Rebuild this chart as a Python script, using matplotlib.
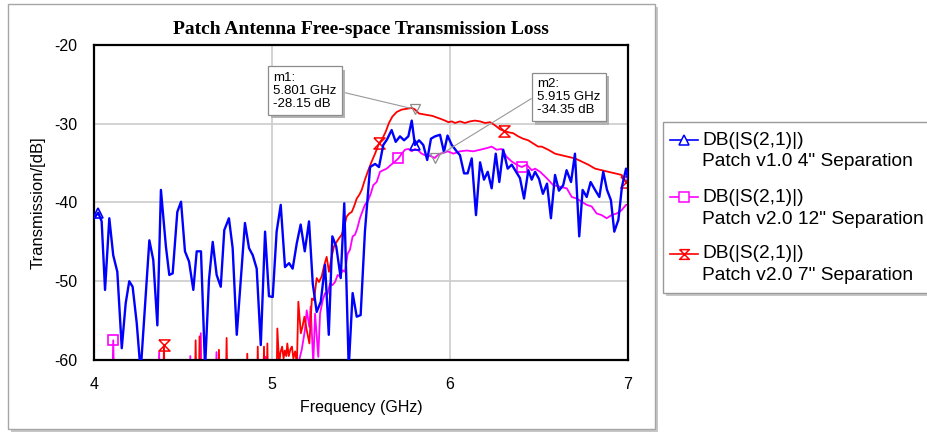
import matplotlib
matplotlib.use("Agg")
import matplotlib.pyplot as plt
from matplotlib.patches import Rectangle
from matplotlib.lines import Line2D
import matplotlib.patheffects as pe

plt.rcParams['font.family'] = ['Liberation Sans', 'DejaVu Sans']

# ---------------- data ----------------
blue_f = [4.000, 4.024, 4.043, 4.062, 4.086, 4.108, 4.131, 4.156, 4.178, 4.198, 4.217, 4.240, 4.262, 4.311,
          4.333, 4.356, 4.376, 4.404, 4.423, 4.442, 4.468, 4.489, 4.511, 4.534, 4.558, 4.577, 4.601, 4.624,
          4.646, 4.667, 4.689, 4.712, 4.732, 4.758, 4.779, 4.802, 4.826, 4.848, 4.871, 4.892, 4.914, 4.937,
          4.961, 4.983, 5.004, 5.026, 5.049, 5.073, 5.096, 5.116, 5.139, 5.161, 5.184, 5.208, 5.229, 5.251,
          5.274, 5.298, 5.319, 5.339, 5.361, 5.386, 5.406, 5.431, 5.453, 5.476, 5.498, 5.522, 5.551, 5.579,
          5.601, 5.625, 5.646, 5.672, 5.695, 5.719, 5.742, 5.766, 5.785, 5.803, 5.826, 5.850, 5.872, 5.893,
          5.916, 5.944, 5.966, 5.986, 6.010, 6.034, 6.056, 6.079, 6.099, 6.122, 6.146, 6.169, 6.191, 6.212,
          6.234, 6.257, 6.277, 6.299, 6.324, 6.347, 6.371, 6.393, 6.416, 6.440, 6.459, 6.478, 6.500, 6.522,
          6.545, 6.567, 6.590, 6.612, 6.636, 6.655, 6.680, 6.702, 6.726, 6.745, 6.768, 6.790, 6.815, 6.839,
          6.861, 6.882, 6.904, 6.923, 6.946, 6.966, 6.989, 7.000]
blue_v = [-42.0, -41.3, -42.4, -51.1, -42.0, -46.7, -48.8, -58.5, -52.8, -50.0, -50.7, -55.3, -61.5, -44.8,
          -47.3, -55.6, -38.4, -45.6, -49.2, -49.0, -41.2, -39.9, -46.2, -47.5, -51.1, -46.2, -46.2, -61.0,
          -49.8, -45.0, -49.2, -50.7, -43.5, -42.0, -45.8, -56.8, -49.4, -42.6, -45.8, -46.7, -48.4, -58.1,
          -43.7, -51.9, -52.0, -43.7, -40.3, -48.2, -47.7, -48.4, -45.2, -42.8, -46.2, -42.4, -50.3, -53.9,
          -52.6, -47.9, -56.8, -44.3, -45.6, -49.6, -40.1, -61.0, -51.5, -54.5, -54.3, -43.7, -35.5, -35.1,
          -35.5, -32.7, -32.0, -30.8, -32.3, -31.6, -32.1, -31.6, -29.6, -32.7, -32.1, -32.7, -34.6, -31.9,
          -31.6, -31.4, -33.6, -31.5, -32.7, -33.4, -34.0, -36.3, -36.3, -34.4, -41.6, -34.9, -37.1, -36.1,
          -38.2, -33.8, -37.4, -33.3, -35.7, -35.2, -36.1, -36.9, -39.5, -35.9, -37.1, -36.1, -37.0, -38.9,
          -37.6, -42.0, -36.5, -38.5, -37.8, -35.9, -37.4, -33.8, -44.3, -38.4, -39.3, -37.4, -38.4, -39.3,
          -36.1, -38.4, -39.7, -43.7, -42.2, -38.0, -35.7, -37.0]
blue_marker_f = [4.024, 5.803]

mag_f = [4.000, 4.100, 4.108, 4.116, 4.360, 4.366, 4.372, 4.535, 4.541, 4.547, 4.594, 4.600, 4.606, 4.682,
         4.688, 4.694, 4.958, 4.963, 4.968, 5.145, 5.155, 5.167, 5.185, 5.195, 5.210, 5.217, 5.232, 5.242,
         5.260, 5.270, 5.285, 5.298, 5.311, 5.326, 5.339, 5.354, 5.369, 5.382, 5.397, 5.410, 5.425, 5.438,
         5.453, 5.466, 5.479, 5.494, 5.510, 5.522, 5.541, 5.556, 5.569, 5.588, 5.607, 5.625, 5.644, 5.669,
         5.691, 5.710, 5.729, 5.747, 5.766, 5.785, 5.803, 5.822, 5.841, 5.860, 5.878, 5.901, 5.915, 5.925,
         5.944, 5.962, 5.987, 6.019, 6.056, 6.094, 6.131, 6.169, 6.206, 6.234, 6.262, 6.290, 6.318, 6.347,
         6.375, 6.403, 6.431, 6.459, 6.478, 6.506, 6.543, 6.580, 6.618, 6.656, 6.684, 6.712, 6.740, 6.768,
         6.796, 6.824, 6.852, 6.880, 6.908, 6.936, 6.963, 6.989, 7.000]
mag_v = [-66.0, -66.0, -57.5, -66.0, -66.0, -59.0, -66.0, -66.0, -59.5, -66.0, -66.0, -56.6, -66.0, -66.0,
         -59.0, -66.0, -66.0, -59.6, -66.0, -66.0, -59.8, -58.7, -56.2, -53.7, -55.8, -53.2, -60.5, -54.1,
         -59.6, -54.1, -52.4, -51.5, -51.7, -50.3, -50.5, -50.1, -49.2, -49.4, -48.6, -48.8, -46.5, -46.0,
         -44.3, -44.1, -43.3, -42.0, -41.0, -40.3, -39.7, -38.8, -37.8, -37.4, -36.1, -35.9, -35.7, -35.2,
         -34.8, -34.4, -33.8, -33.3, -33.2, -33.5, -33.2, -33.4, -33.8, -34.0, -34.0, -34.2, -34.35, -34.1,
         -33.8, -33.7, -33.5, -33.8, -33.5, -33.4, -33.5, -33.3, -33.1, -32.9, -33.3, -33.2, -34.2, -34.8,
         -35.2, -35.5, -35.2, -35.9, -35.7, -36.1, -36.9, -37.8, -38.0, -38.2, -39.3, -39.5, -39.9, -40.3,
         -40.5, -41.4, -41.6, -42.0, -41.6, -41.4, -41.0, -40.3, -40.3]
mag_marker_f = [4.108, 5.710, 6.403]

red_f = [4.000, 4.387, 4.393, 4.399, 4.565, 4.571, 4.577, 4.587, 4.593, 4.599, 4.696, 4.702, 4.708, 4.739,
         4.745, 4.751, 4.855, 4.861, 4.867, 4.914, 4.920, 4.926, 4.949, 4.955, 4.961, 4.968, 4.974, 4.980,
         5.024, 5.030, 5.040, 5.048, 5.057, 5.065, 5.072, 5.080, 5.086, 5.094, 5.104, 5.112, 5.120, 5.130,
         5.140, 5.148, 5.162, 5.171, 5.182, 5.195, 5.210, 5.224, 5.236, 5.251, 5.264, 5.279, 5.293, 5.307,
         5.320, 5.335, 5.348, 5.363, 5.378, 5.391, 5.404, 5.419, 5.434, 5.448, 5.461, 5.476, 5.491, 5.504,
         5.522, 5.541, 5.560, 5.579, 5.601, 5.620, 5.639, 5.657, 5.676, 5.701, 5.729, 5.757, 5.785, 5.801,
         5.826, 5.850, 5.875, 5.901, 5.925, 5.950, 5.972, 5.991, 6.010, 6.028, 6.056, 6.084, 6.112, 6.140,
         6.169, 6.197, 6.225, 6.253, 6.281, 6.303, 6.331, 6.355, 6.383, 6.411, 6.439, 6.467, 6.495, 6.515,
         6.552, 6.590, 6.627, 6.664, 6.702, 6.740, 6.777, 6.815, 6.852, 6.889, 6.927, 6.964, 6.990, 7.000]
red_v = [-66.0, -66.0, -58.1, -66.0, -66.0, -57.5, -66.0, -66.0, -57.0, -66.0, -66.0, -58.7, -66.0, -66.0,
         -57.2, -66.0, -66.0, -59.2, -66.0, -66.0, -58.3, -66.0, -66.0, -58.3, -66.0, -66.0, -57.9, -66.0,
         -66.0, -56.0, -60.5, -59.0, -58.3, -59.8, -58.8, -59.5, -57.9, -59.5, -58.6, -58.3, -59.8, -58.9,
         -60.5, -52.6, -56.6, -55.8, -54.5, -56.2, -57.9, -52.2, -52.4, -49.6, -50.1, -49.4, -48.0, -46.9,
         -48.8, -46.9, -45.6, -45.0, -44.5, -44.1, -43.3, -41.8, -41.4, -41.2, -40.5, -39.5, -39.0, -38.4,
         -37.1, -35.9, -34.8, -33.8, -32.5, -31.9, -31.0, -29.9, -29.1, -28.5, -28.2, -28.1, -28.0, -28.15,
         -28.7, -28.8, -28.9, -29.0, -29.2, -29.4, -29.6, -29.8, -29.7, -29.9, -29.7, -29.9, -29.7, -29.6,
         -29.7, -29.9, -29.8, -30.2, -30.7, -30.9, -31.1, -31.2, -31.6, -31.9, -32.1, -32.5, -32.9, -32.9,
         -33.3, -33.8, -34.0, -34.2, -34.4, -34.8, -35.2, -35.7, -35.9, -36.1, -36.3, -36.5, -37.4, -37.0]
red_marker_f = [4.393, 5.601, 6.303, 6.990]

m1_f, m1_v = 5.801, -28.15
m2_f, m2_v = 5.915, -34.35

title = "Patch Antenna Free-space Transmission Loss"
xlabel = "Frequency (GHz)"
ylabel = "Transmission/[dB]"
xticks = [4, 5, 6, 7]
yticks = [-60, -50, -40, -30, -20]
legend_top = ["DB(|S(2,1)|)", "DB(|S(2,1)|)", "DB(|S(2,1)|)"]
legend_names = ['Patch v1.0 4" Separation', 'Patch v2.0 12" Separation', 'Patch v2.0 7" Separation']

# ---------------- styles ----------------
W, H = 928, 436
BLUE, MAG, RED = '#0000ff', '#ff00ff', '#ff0000'
hourglass = [(-1, 1), (1, 1), (-1, -1), (1, -1), (-1, 1)]

def fx(px):
    return px / W

def fy(py):
    return 1 - py / H

fig = plt.figure(figsize=(W / 100, H / 100), dpi=100)

# outer frame with shadow
fig.add_artist(Rectangle((fx(11), fy(432)), fx(655) - fx(8), fy(4) - fy(429),
                         transform=fig.transFigure, fc='0.78', ec='none', zorder=0))
fig.add_artist(Rectangle((fx(8), fy(429)), fx(655) - fx(8), fy(4) - fy(429),
                         transform=fig.transFigure, fc='white', ec='0.65', lw=1, zorder=0.1))

ax = fig.add_axes([fx(94), fy(360), fx(628) - fx(94), fy(45) - fy(360)])
ax.set_zorder(1)
ax.set_xlim(4, 7)
ax.set_ylim(-60, -20)
ax.set_xticks(xticks)
ax.set_yticks(yticks)
ax.set_xticklabels([str(t) for t in xticks])
ax.set_yticklabels([str(t) for t in yticks])
ax.tick_params(length=0, labelsize=11.5, pad=12)
ax.grid(True, color='0.8', lw=1.2)
ax.set_axisbelow(True)
for s in ax.spines.values():
    s.set_color('black')
    s.set_linewidth(1.6)

def idx(flist, marks):
    return [flist.index(m) for m in marks]

ax.plot(blue_f, blue_v, color=BLUE, lw=1.7, marker='^', ms=7, mfc='none', mew=1.2,
        markevery=idx(blue_f, blue_marker_f), zorder=3)
ax.plot(mag_f, mag_v, color=MAG, lw=1.3, marker='s', ms=7.5, mfc='none', mew=1.2,
        markevery=idx(mag_f, mag_marker_f), zorder=2)
ax.plot(red_f, red_v, color=RED, lw=1.3, marker=hourglass, ms=8, mfc='none', mew=1.1,
        markevery=idx(red_f, red_marker_f), zorder=2.5)

# marker annotations
ax.plot([m1_f, m2_f], [m1_v, m2_v], linestyle='none', marker='v', ms=7, mfc='none',
        mec='0.55', mew=0.9, zorder=4)

def marker_box(name, f, v, tx, ty, relpos):
    txt = f"{name}:\n{f:.3f} GHz\n{v:.2f} dB"
    t = ax.annotate(txt, xy=(f, v), xytext=(tx, ty), fontsize=9.5, linespacing=1.1, ha='left', va='top',
                    bbox=dict(boxstyle='square,pad=0.4', fc='white', ec='0.55', lw=0.9),
                    arrowprops=dict(arrowstyle='-', color='0.6', lw=0.8, shrinkA=0, shrinkB=3,
                                    relpos=relpos), zorder=6)
    t.get_bbox_patch().set_path_effects([
        pe.SimplePatchShadow(offset=(2.5, -2.5), shadow_rgbFace='0.7', alpha=1.0), pe.Normal()])

marker_box('m1', m1_f, m1_v, 5.006, -23.4, (1.0, 0.5))
marker_box('m2', m2_f, m2_v, 6.489, -24.2, (0.0, 0.55))

ax.set_title(title, fontsize=14, fontweight='bold', family='Liberation Serif', pad=8)
ax.set_xlabel(xlabel, fontsize=11.5, labelpad=6)
ax.set_ylabel(ylabel, fontsize=12, labelpad=6)

# legend (manual, first text line aligned with handle)
fig.add_artist(Rectangle((fx(666), fy(296)), fx(935) - fx(663), fy(122) - fy(293),
                         transform=fig.transFigure, fc='0.78', ec='none', zorder=0))
fig.add_artist(Rectangle((fx(663), fy(293)), fx(935) - fx(663), fy(122) - fy(293),
                         transform=fig.transFigure, fc='white', ec='0.6', lw=1, zorder=0.1))
styles = [(BLUE, '^'), (MAG, 's'), (RED, hourglass)]
row_y = [140, 197, 254]
for (col, mk), top, name, py in zip(styles, legend_top, legend_names, row_y):
    fig.add_artist(Line2D([fx(670), fx(698)], [fy(py), fy(py)], transform=fig.transFigure,
                          color=col, lw=1.2))
    fig.add_artist(Line2D([fx(684)], [fy(py)], transform=fig.transFigure, color=col,
                          marker=mk, ms=7, mfc='white', mew=1.1, linestyle='none'))
    fig.text(fx(702), fy(py), top, fontsize=13.8, va='center', ha='left')
    fig.text(fx(702), fy(py + 22), name, fontsize=13.8, va='center', ha='left')

fig.savefig('out.png', dpi=100, facecolor='white')
